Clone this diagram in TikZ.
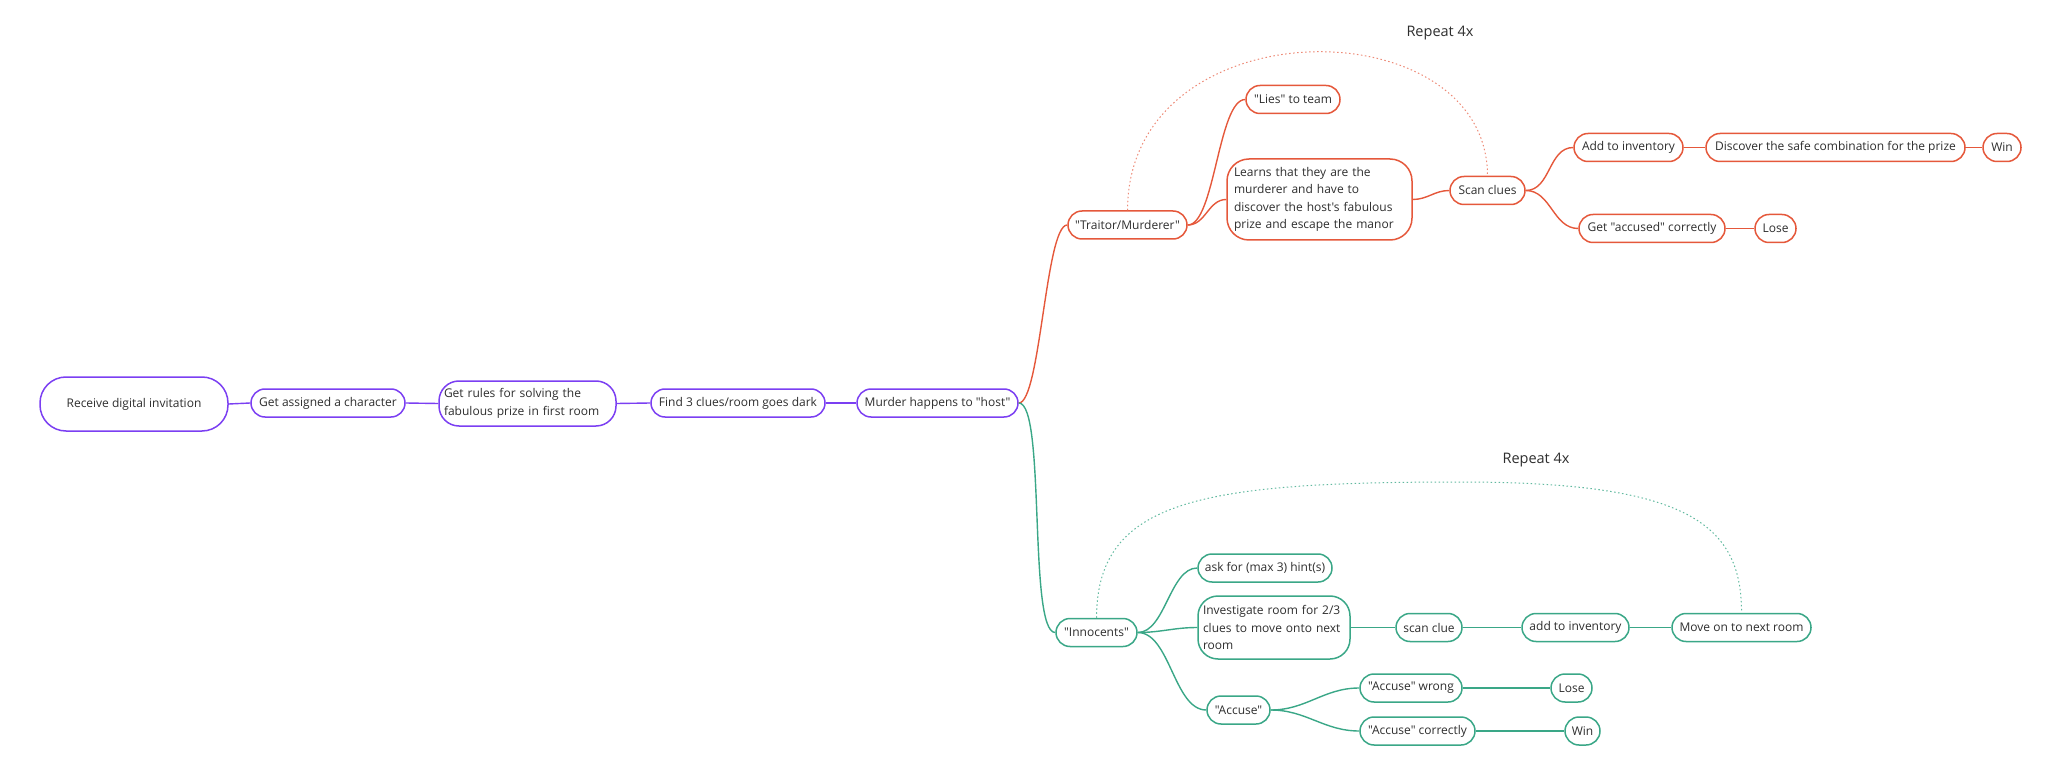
\documentclass[tikz,border=0pt]{standalone}
\usepackage{fontspec}
\setmainfont{Open Sans}[Ligatures=TeXOff]
\definecolor{purp}{HTML}{7B3FF2}
\definecolor{rred}{HTML}{E5583B}
\definecolor{gg}{HTML}{3AA787}
\definecolor{txt}{HTML}{2E2E2E}
\tikzset{
  box/.style={draw, rounded corners=14pt, line width=1.5pt, fill=white, inner sep=0pt,
    text=txt, font=\fontsize{12}{17.5}\selectfont, align=left, minimum height=28pt},
  pbox/.style={box, draw=purp},
  rbox/.style={box, draw=rred},
  gbox/.style={box, draw=gg},
  pl/.style={draw=purp, line width=1.4pt},
  rl/.style={draw=rred, line width=1.4pt},
  gl/.style={draw=gg, line width=1.4pt},
  curv/.style={out=0, in=180, looseness=#1},
  curv/.default=1,
  loopline/.style={line width=1pt, dash pattern=on 1.5pt off 2.5pt},
  rep/.style={text=txt, font=\fontsize{14.5}{17}\selectfont}
}
\begin{document}
\begin{tikzpicture}[x=1pt, y=-1pt]
\useasboundingbox (0,0) rectangle (2048,767);

% main purple chain
\node[pbox, minimum width=188pt, minimum height=54pt, rounded corners=26pt] (recv) at (134,404) {Receive digital invitation};
\node[pbox, minimum width=154pt] (assign) at (328,403) {Get assigned a character};
\node[pbox, minimum width=177pt, minimum height=45pt, rounded corners=20pt, text width=167pt] (rules) at (527.5,403.5) {Get rules for solving the\\fabulous prize in first room};
\node[pbox, minimum width=174pt] (find) at (738,403) {Find 3 clues/room goes dark};
\node[pbox, minimum width=161pt] (murder) at (937.5,403) {Murder happens to "host"};

% traitor branch
\node[rbox, minimum width=119pt] (traitor) at (1127.5,225) {"Traitor/Murderer"};
\node[rbox, minimum width=94pt] (lies) at (1293,99.5) {"Lies" to team};
\node[rbox, minimum width=185pt, minimum height=81pt, rounded corners=22pt, text width=171pt] (learns) at (1319.5,199.5) {Learns that they are the\\murderer and have to\\discover the host's fabulous\\prize and escape the manor};
\node[rbox, minimum width=75pt] (scan) at (1487.5,190.5) {Scan clues};
\node[rbox, minimum width=109pt] (addinv) at (1628.5,147.5) {Add to inventory};
\node[rbox, minimum width=259pt] (discover) at (1835.5,147.5) {Discover the safe combination for the prize};
\node[rbox, minimum width=38pt] (win1) at (2002,147.5) {Win};
\node[rbox, minimum width=146pt] (accused) at (1652,228.5) {Get "accused" correctly};
\node[rbox, minimum width=41pt] (lose1) at (1775.5,228.5) {Lose};

% innocents branch
\node[gbox, minimum width=81pt] (inno) at (1096.5,632.5) {"Innocents"};
\node[gbox, minimum width=134pt] (ask) at (1265,568) {ask for (max 3) hint(s)};
\node[gbox, minimum width=152pt, minimum height=63pt, rounded corners=20pt, text width=142pt] (invest) at (1274,627.5) {Investigate room for 2/3\\clues to move onto next\\room};
\node[gbox, minimum width=66pt] (scanclue) at (1429,627.5) {scan clue};
\node[gbox, minimum width=107pt] (addinv2) at (1575.5,627.5) {add to inventory};
\node[gbox, minimum width=139pt] (moveon) at (1741.5,627.5) {Move on to next room};
\node[gbox, minimum width=63pt] (accuse) at (1238.5,710) {"Accuse"};
\node[gbox, minimum width=102pt] (wrong) at (1411,688) {"Accuse" wrong};
\node[gbox, minimum width=41pt] (lose2) at (1571.5,688) {Lose};
\node[gbox, minimum width=115pt] (correct) at (1417.5,731) {"Accuse" correctly};
\node[gbox, minimum width=35pt] (win2) at (1582.5,731) {Win};

% repeat labels
\node[rep] (rep1) at (1440,33) {Repeat 4x};
\node[rep] (rep2) at (1536,460) {Repeat 4x};

% purple connectors
\draw[pl] (recv.east) -- (assign.west);
\draw[pl] (assign.east) -- (rules.west);
\draw[pl] (rules.east) -- (find.west);
\draw[pl] (find.east) -- (murder.west);

% red connectors
\draw[rl] (murder.east) to[curv=0.3] (traitor.west);
\draw[rl] (traitor.east) to[curv=0.5] (lies.west);
\draw[rl] (traitor.east) to[curv=1] (learns.west);
\draw[rl] (learns.east) to[curv=1] (scan.west);
\draw[rl] (scan.east) to[curv=1] (addinv.west);
\draw[rl] (scan.east) to[curv=1] (accused.west);
\draw[rl] (addinv.east) -- (discover.west);
\draw[rl] (discover.east) -- (win1.west);
\draw[rl] (accused.east) -- (lose1.west);

% green connectors
\draw[gl] (murder.east) to[curv=0.3] (inno.west);
\draw[gl] (inno.east) to[curv=0.8] (ask.west);
\draw[gl] (inno.east) to[curv=1] (invest.west);
\draw[gl] (inno.east) to[curv=0.8] (accuse.west);
\draw[gl] (invest.east) -- (scanclue.west);
\draw[gl] (scanclue.east) -- (addinv2.west);
\draw[gl] (addinv2.east) -- (moveon.west);
\draw[gl] (accuse.east) to[curv=1] (wrong.west);
\draw[gl] (accuse.east) to[curv=1] (correct.west);
\draw[gl] (wrong.east) -- (lose2.west);
\draw[gl] (correct.east) -- (win2.west);

% repeat loops (dotted)
\draw[loopline, draw=rred!70] (traitor.north) .. controls (1128,5) and (1487,5) .. (scan.north);
\draw[loopline, draw=gg!80] (inno.north) .. controls (1097,500) and (1200,482) .. (1460,482)
  .. controls (1680,482) and (1742,520) .. (moveon.north);
\end{tikzpicture}
\end{document}
